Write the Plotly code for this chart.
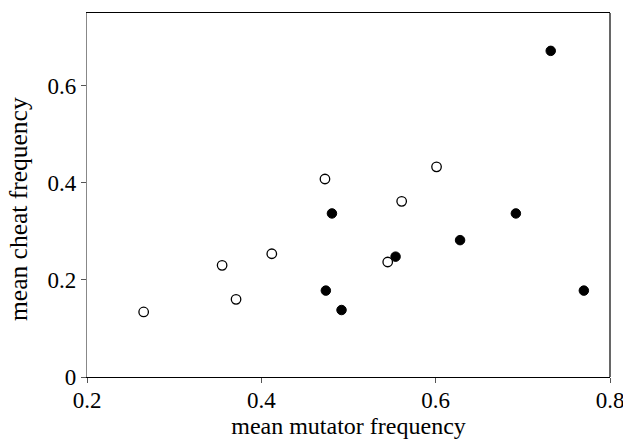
import plotly.graph_objects as go

open_x = [0.265, 0.355, 0.371, 0.412, 0.473, 0.545, 0.561, 0.601]
open_y = [0.134, 0.230, 0.160, 0.254, 0.408, 0.237, 0.362, 0.433]
filled_x = [0.474, 0.481, 0.492, 0.554, 0.628, 0.692, 0.732, 0.770]
filled_y = [0.178, 0.337, 0.138, 0.248, 0.282, 0.337, 0.672, 0.178]

x_ticks = [0.2, 0.4, 0.6, 0.8]
x_labels = ["0.2", "0.4", "0.6", "0.8"]
y_ticks = [0, 0.2, 0.4, 0.6]
y_labels = ["0", "0.2", "0.4", "0.6"]

fig = go.Figure()
fig.add_trace(go.Scatter(x=open_x, y=open_y, mode="markers",
                         marker=dict(symbol="circle", size=9.5, color="white",
                                     line=dict(color="black", width=1.3)),
                         showlegend=False, cliponaxis=False))
fig.add_trace(go.Scatter(x=filled_x, y=filled_y, mode="markers",
                         marker=dict(symbol="circle", size=9.5, color="black",
                                     line=dict(color="black", width=1)),
                         showlegend=False, cliponaxis=False))

font = "Liberation Serif, Times New Roman, serif"
fig.update_layout(
    width=623, height=441,
    margin=dict(l=87, r=13, t=13, b=64),
    plot_bgcolor="white", paper_bgcolor="white",
    font=dict(family=font, color="black"),
    xaxis=dict(range=[0.2, 0.8], tickvals=x_ticks, ticktext=x_labels,
               showgrid=False, zeroline=False, showline=True, linecolor="black",
               linewidth=1.2, mirror=True, ticks="outside", ticklen=5,
               tickcolor="#555", tickfont=dict(size=23, family=font),
               ticklabeloverflow="allow", automargin=False, ticklabelstandoff=-3,
               title=dict(text="mean mutator frequency", font=dict(size=24, family=font),
                          standoff=4)),
    yaxis=dict(range=[0, 0.75], tickvals=y_ticks, ticktext=y_labels,
               showgrid=False, zeroline=False, showline=True, linecolor="#888",
               linewidth=1.2, mirror=False, ticks="outside", ticklen=5,
               tickcolor="#555", tickfont=dict(size=23, family=font),
               ticklabeloverflow="allow", automargin=False),
    annotations=[dict(text="mean cheat frequency", textangle=-90, showarrow=False,
                      xref="paper", yref="paper", x=0, y=0.4615,
                      xanchor="center", yanchor="middle", xshift=-69,
                      font=dict(size=25.5, family=font, color="black"))],
    shapes=[dict(type="line", xref="paper", yref="paper", x0=1, x1=1, y0=0, y1=1,
                 line=dict(color="black", width=1.2))],
)

fig.write_html("out.html", config={"displayModeBar": False},
               post_script="document.body.style.margin='0';")
